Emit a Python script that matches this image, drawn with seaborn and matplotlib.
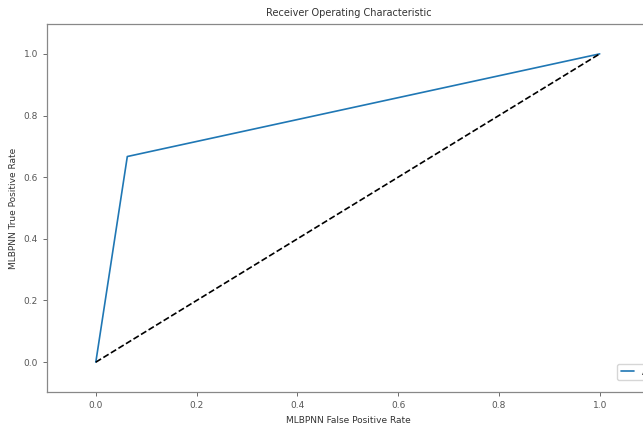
import matplotlib
matplotlib.use("Agg")
import matplotlib.pyplot as plt
import seaborn as sns
import pandas as pd

# ROC points
fpr = [0.0, 0.0625, 1.0]
tpr = [0.0, 0.667, 1.0]
chance = [0.0, 1.0]
roc_auc = 0.80

sns.set_style("ticks")
plt.rcParams['font.family'] = ['DejaVu Sans']

fig = plt.figure(figsize=(6.43, 4.28), dpi=100)
ax = fig.add_axes([0.073, 0.084, 0.938, 0.86])

df = pd.DataFrame({'fpr': fpr, 'tpr': tpr})
sns.lineplot(data=df, x='fpr', y='tpr', color='#1f77b4', linewidth=1.2,
             label='AUC = %0.2f' % roc_auc, ax=ax, estimator=None, sort=False)
sns.lineplot(x=chance, y=chance, color='black', linestyle='--', linewidth=1.2, ax=ax)

ax.set_xlim(-0.097, 1.1)
ax.set_ylim(-0.097, 1.097)
ax.set_xticks([0.0, 0.2, 0.4, 0.6, 0.8, 1.0])
ax.set_yticks([0.0, 0.2, 0.4, 0.6, 0.8, 1.0])
ax.tick_params(labelsize=6.5, colors='#555555', length=3, width=0.6)
for s in ax.spines.values():
    s.set_color('#888888')
    s.set_linewidth(0.9)

ax.set_title('Receiver Operating Characteristic', fontsize=7, color='#333333')
ax.set_xlabel('MLBPNN False Positive Rate', fontsize=6.5, color='#333333')
ax.set_ylabel('MLBPNN True Positive Rate', fontsize=6.5, color='#333333')

ax.legend(loc='lower left', bbox_to_anchor=(0.938, 0.02), fontsize=6.5,
          frameon=True, handlelength=1.5)

fig.savefig('out.png', dpi=100)
